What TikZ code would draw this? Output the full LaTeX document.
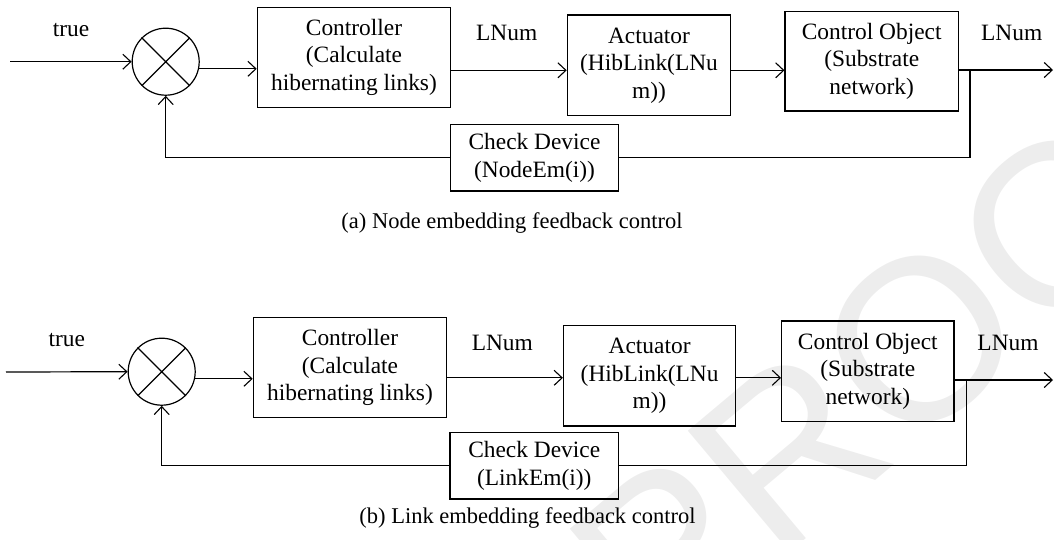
\documentclass[tikz,border=0pt]{standalone}
\usepackage{fontspec}
\setmainfont{Liberation Serif}
\newfontfamily\wmfont{Liberation Sans}
\usetikzlibrary{arrows.meta}
\begin{document}
\begin{tikzpicture}[x=1pt,y=-1pt,
  txt/.style={font=\fontsize{23.4}{27.5}\selectfont},
  blk/.style={draw,line width=1.2pt,align=center,inner sep=0pt,txt},
  sumnode/.style={draw,circle,line width=1.2pt,minimum size=67pt,inner sep=0pt},
  arr/.style={line width=1.2pt,-{Straight Barb[length=8pt,width=15pt,line width=1.1pt]}},
  ln/.style={line width=1.2pt},
  captxt/.style={font=\fontsize{22.5}{26}\selectfont,anchor=base}]
\useasboundingbox (0,0) rectangle (1054,539);
% watermark
\begin{scope}
\clip (0,0) rectangle (1054,539);
\node[text=black!7,font=\wmfont\fontsize{230}{230}\selectfont,rotate=40,anchor=base west] (wm) at (655,665) {PROOF};
\end{scope}
% ---------- (a) ----------
\coordinate (inA) at (10,61.7);
\node[sumnode] (sumA) at (165.7,61.7) {};
\draw[ln] (sumA.45) -- (sumA.225) (sumA.135) -- (sumA.315);
\node[blk,minimum width=193.4pt,minimum height=100pt] (ctrlA) at (354,57.3) {Controller\\(Calculate\\hibernating links)};
\node[blk,minimum width=163.4pt,minimum height=100.7pt] (actA) at (649,65.3) {Actuator\\(HibLink(LNu\\m))};
\node[blk,minimum width=173.3pt,minimum height=99.3pt] (coA) at (871.7,61.3) {Control Object\\(Substrate\\network)};
\node[blk,minimum width=167.6pt,minimum height=66.7pt] (chkA) at (534.5,157.7) {Check Device\\(NodeEm(i))};
\node[txt,anchor=base] (trueA) at (71,36.7) {true};
\node[txt,anchor=base] (lnA1) at (506.7,40) {LNum};
\node[txt,anchor=base] (lnA2) at (1011.7,40) {LNum};
\coordinate (rowA) at (0,70.3);
\coordinate (outA) at (1053,70);
\coordinate (brA) at (970,70);
\draw[arr] (inA) -- (sumA.west);
\draw[arr] (sumA.-12) -- (sumA.-12 -| ctrlA.west);
\draw[arr] (ctrlA.east |- rowA) -- (actA.west |- rowA);
\draw[arr] (actA.east |- rowA) -- (coA.west |- rowA);
\draw[arr] (coA.east |- outA) -- (outA);
\draw[ln] (brA) -- (brA |- chkA.east) -- (chkA.east);
\draw[arr] (chkA.west) -| (sumA.south);
\node[captxt] (capA) at (512,228) {(a) Node embedding feedback control};
% ---------- (b) ----------
\coordinate (inB) at (6,372);
\node[sumnode] (sumB) at (161.7,371.7) {};
\draw[ln] (sumB.45) -- (sumB.225) (sumB.135) -- (sumB.315);
\node[blk,minimum width=193.4pt,minimum height=100.4pt] (ctrlB) at (350,367.5) {Controller\\(Calculate\\hibernating links)};
\node[blk,minimum width=172.2pt,minimum height=100.3pt] (actB) at (649.6,375.8) {Actuator\\(HibLink(LNu\\m))};
\node[blk,minimum width=172.3pt,minimum height=100.7pt] (coB) at (867.8,371.3) {Control Object\\(Substrate\\network)};
\node[blk,minimum width=168.3pt,minimum height=66.7pt] (chkB) at (534.2,465.7) {Check Device\\(LinkEm(i))};
\node[txt,anchor=base] (trueB) at (66.7,346.7) {true};
\node[txt,anchor=base] (lnB1) at (502.3,350) {LNum};
\node[txt,anchor=base] (lnB2) at (1008,350) {LNum};
\coordinate (rowB) at (0,377.8);
\coordinate (outB) at (1053,380);
\coordinate (brB) at (966.3,380);
\draw[arr] (inB) -- (sumB.west);
\draw[arr] (sumB.-12) -- (sumB.-12 -| ctrlB.west);
\draw[arr] (ctrlB.east |- rowB) -- (actB.west |- rowB);
\draw[arr] (actB.east |- rowB) -- (coB.west |- rowB);
\draw[arr] (coB.east |- outB) -- (outB);
\draw[ln] (brB) -- (brB |- chkB.east) -- (chkB.east);
\draw[arr] (chkB.west) -| (sumB.south);
\node[captxt] (capB) at (527.5,523) {(b) Link embedding feedback control};
\end{tikzpicture}
\end{document}
